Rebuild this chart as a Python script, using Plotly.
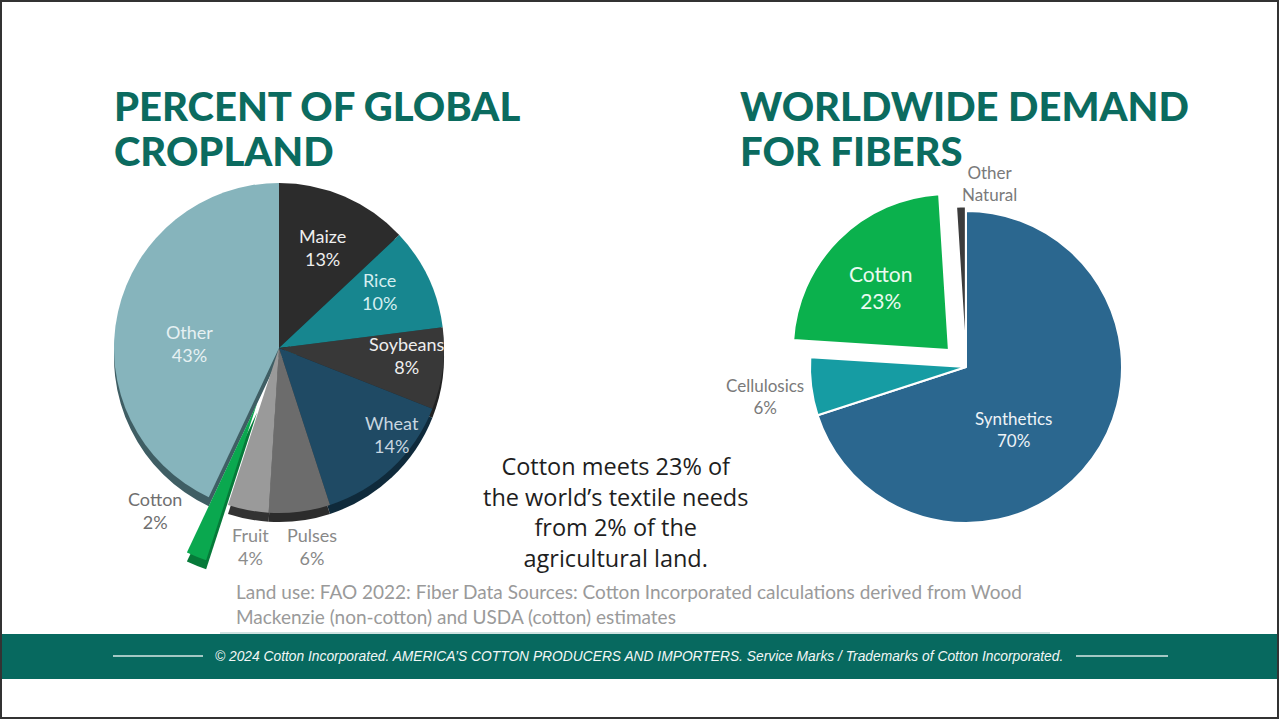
import plotly.graph_objects as go

W, H = 1279, 719

# ---- data ----
crop_labels = ["Maize", "Rice", "Soybeans", "Wheat", "Pulses", "Fruit", "Cotton", "Other"]
crop_share = [13, 10, 8, 14, 6, 4, 2, 43]
crop_colors = ["#2c2c2c", "#17868f", "#383838", "#1f4a64", "#6c6c6c", "#9a9a9a", "#0aa84f", "#86b4bc"]
crop_edge = ["#1a1a1a", "#0e5a61", "#222222", "#0f2a3b", "#2c2c2c", "#333333", "#067a39", "#3f5e64"]
crop_pull = [0, 0, 0, 0, 0, 0, 0.36, 0]

fiber_labels = ["Synthetics", "Cellulosics", "Cotton", "Other Natural"]
fiber_share = [70, 6, 23, 1]
fiber_colors = ["#2b678f", "#169ca3", "#0bb14d", "#3c3c3c"]
fiber_pull = [0, 0, 0.155, 0.03]

left_title = ["PERCENT OF GLOBAL", "CROPLAND"]
right_title = ["WORLDWIDE DEMAND", "FOR FIBERS"]
message = ["Cotton meets 23% of", "the world’s textile needs", "from 2% of the", "agricultural land."]


def px(x):
    return x / W


def py(y):
    return 1 - y / H


def pie_domain(cx, cy, r, pull):
    half = r * (1 + max(pull))
    return dict(x=[px(cx - half), px(cx + half)], y=[py(cy + half), py(cy - half)])


fig = go.Figure()

# left pie: darker copy shifted down gives the thick rim
LCX, LCY, LR = 279, 348, 165
fig.add_trace(go.Pie(
    values=crop_share, labels=crop_labels, sort=False, direction="clockwise", rotation=0,
    pull=crop_pull, marker=dict(colors=crop_edge, line=dict(width=0)),
    textinfo="none", hoverinfo="skip", showlegend=False,
    domain=pie_domain(LCX, LCY + 9, LR, crop_pull),
))
fig.add_trace(go.Pie(
    values=crop_share, labels=crop_labels, sort=False, direction="clockwise", rotation=0,
    pull=crop_pull, marker=dict(colors=crop_colors, line=dict(width=0)),
    textinfo="none", showlegend=False,
    domain=pie_domain(LCX, LCY, LR, crop_pull),
))

# right pie
RCX, RCY, RR = 966, 367, 156
fig.add_trace(go.Pie(
    values=fiber_share, labels=fiber_labels, sort=False, direction="clockwise", rotation=0,
    pull=fiber_pull, marker=dict(colors=fiber_colors, line=dict(color="white", width=2)),
    textinfo="none", showlegend=False,
    domain=pie_domain(RCX, RCY, RR, fiber_pull),
))

LABEL_FONT = "Lato, 'Open Sans', sans-serif"
annotations = []


def text_at(text, x, y, font, xanchor="center", yanchor="middle", align="center"):
    annotations.append(dict(
        text=text, x=px(x), y=py(y), xref="paper", yref="paper", showarrow=False,
        xanchor=xanchor, yanchor=yanchor, align=align, font=font,
    ))


def slice_label(name, value, x, y, color, size):
    text_at(f"{name}<br>{value}%", x, y, dict(family=LABEL_FONT, size=size, color=color))


crop_label_pos = {
    "Maize": (322, 247, "#eeeeee"),
    "Rice": (380, 291, "#d5eef0"),
    "Soybeans": (406, 356, "#eeeeee"),
    "Wheat": (392, 434, "#c8d6e0"),
    "Pulses": (312, 546, "#888888"),
    "Fruit": (250, 546, "#8c8c8c"),
    "Cotton": (155, 510, "#6f6f6f"),
    "Other": (190, 343, "#e6f1f3"),
}
for name, val in zip(crop_labels, crop_share):
    x, y, c = crop_label_pos[name]
    slice_label(name, val, x, y, c, 18)

fiber_label_pos = {
    "Synthetics": (1013, 429, "#eef3f7", 17),
    "Cellulosics": (765, 396, "#7a7a7a", 17),
    "Cotton": (880, 287, "#eafaf0", 21),
}
for name, val in zip(fiber_labels, fiber_share):
    if name in fiber_label_pos:
        x, y, c, s = fiber_label_pos[name]
        slice_label(name, val, x, y, c, s)
text_at("Other<br>Natural", 989, 183, dict(family=LABEL_FONT, size=17, color="#7a7a7a"))

TITLE_FONT = dict(family="Lato, 'DejaVu Sans', sans-serif", size=40, color="#0b6b5f", weight=900)
for i, line in enumerate(left_title):
    text_at(line, 112, 80 + 45 * i, TITLE_FONT, xanchor="left", yanchor="top", align="left")
for i, line in enumerate(right_title):
    text_at(line, 738, 80 + 45 * i, TITLE_FONT, xanchor="left", yanchor="top", align="left")

MSG_FONT = dict(family="'Open Sans', sans-serif", size=23.5, color="#1e1e1e")
text_at("<br>".join(message), 615, 512, MSG_FONT)

SRC_FONT = dict(family=LABEL_FONT, size=19, color="#9a9a9a")
text_at("Land use: FAO 2022: Fiber Data Sources: Cotton Incorporated calculations derived from Wood<br>"
        "Mackenzie (non-cotton) and USDA (cotton) estimates",
        234, 604, SRC_FONT, xanchor="left", align="left")

text_at("<i>© 2024 Cotton Incorporated. AMERICA’S COTTON PRODUCERS AND IMPORTERS. Service Marks / Trademarks of Cotton Incorporated.</i>",
        639, 656, dict(family="'Liberation Sans', sans-serif", size=13.8, color="#f2f7f6"))

shapes = [
    # footer band
    dict(type="rect", xref="paper", yref="paper", x0=0, x1=1, y0=py(679), y1=py(634),
         fillcolor="#07695f", line=dict(width=0), layer="below"),
    dict(type="line", xref="paper", yref="paper", x0=px(220), x1=px(1050), y0=py(633), y1=py(633),
         line=dict(color="#cfe2e0", width=2)),
    dict(type="line", xref="paper", yref="paper", x0=px(113), x1=px(203), y0=py(656), y1=py(656),
         line=dict(color="#d8e8e6", width=1.5)),
    dict(type="line", xref="paper", yref="paper", x0=px(1076), x1=px(1168), y0=py(656), y1=py(656),
         line=dict(color="#d8e8e6", width=1.5)),
    # slide frame
    dict(type="rect", xref="paper", yref="paper", x0=px(1), x1=px(W - 1), y0=py(H - 1), y1=py(1),
         line=dict(color="#333333", width=2), fillcolor="rgba(0,0,0,0)"),
]

fig.update_layout(
    width=W, height=H, margin=dict(l=0, r=0, t=0, b=0),
    paper_bgcolor="white", plot_bgcolor="white",
    annotations=annotations, shapes=shapes, showlegend=False,
)

fig.write_html("out.html")
